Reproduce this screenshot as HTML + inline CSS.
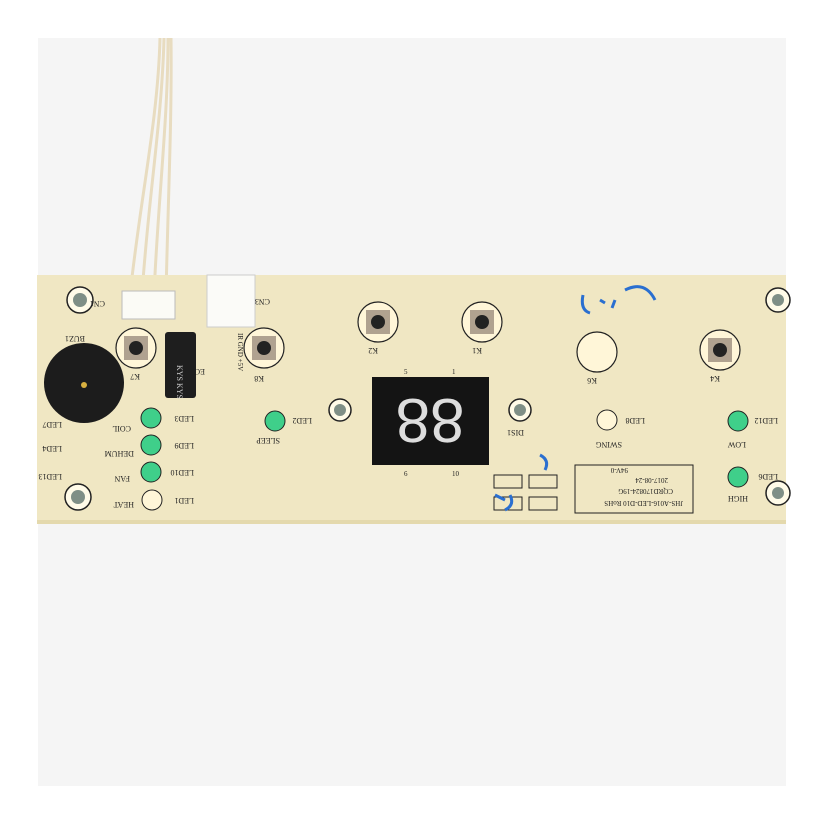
<!DOCTYPE html><html><head><style>body{margin:0;background:#fff}svg{display:block}text{font-family:"Liberation Serif",serif;fill:#222}</style></head><body>
<svg width="824" height="824" viewBox="0 0 824 824" xmlns="http://www.w3.org/2000/svg">
<rect x="38" y="38" width="748" height="748" fill="#f5f5f5"/>
<g stroke="#e8dcc0" stroke-width="3" fill="none">
<path d="M160 38 C158 120 140 200 130 295"/><path d="M164 38 C162 120 148 200 142 295"/><path d="M168 38 C168 120 158 200 154 295"/><path d="M171 38 C172 120 168 200 166 295"/></g>
<rect x="37" y="275" width="749" height="249" fill="#f0e7c3"/>
<rect x="37" y="520" width="749" height="4" fill="#e4d9ad"/>
<g fill="#fffbe8" stroke="#222" stroke-width="1.5">
<circle cx="80" cy="300" r="13"/><circle cx="78" cy="497" r="13"/><circle cx="778" cy="300" r="12"/><circle cx="778" cy="493" r="12"/>
<circle cx="340" cy="410" r="11"/><circle cx="520" cy="410" r="11"/></g>
<g fill="#7f8f86"><circle cx="80" cy="300" r="7"/><circle cx="78" cy="497" r="7"/><circle cx="778" cy="300" r="6"/><circle cx="778" cy="493" r="6"/><circle cx="340" cy="410" r="6"/><circle cx="520" cy="410" r="6"/></g>
<rect x="122" y="291" width="53" height="28" fill="#fbfbf6" stroke="#bbb"/>
<text x="105" y="307" font-size="8" transform="rotate(180 105 304)">CN1</text>
<rect x="207" y="275" width="48" height="52" fill="#fbfbf8" stroke="#ccc"/>
<text x="270" y="305" font-size="8" transform="rotate(180 270 302)">CN3</text>
<text x="238" y="333" font-size="7" transform="rotate(90 238 333)">IR GND +5V</text>
<text x="85" y="342" font-size="8" transform="rotate(180 85 339)">BUZ1</text>
<circle cx="84" cy="383" r="40" fill="#1c1c1c"/><circle cx="84" cy="385" r="3" fill="#d8b040"/>
<g fill="#fff6d8" stroke="#222" stroke-width="1.2">
<circle cx="136" cy="348" r="20"/><circle cx="264" cy="348" r="20"/><circle cx="378" cy="322" r="20"/><circle cx="482" cy="322" r="20"/><circle cx="597" cy="352" r="20"/><circle cx="720" cy="350" r="20"/></g>
<g fill="#b0a290"><rect x="124" y="336" width="24" height="24"/><rect x="252" y="336" width="24" height="24"/><rect x="366" y="310" width="24" height="24"/><rect x="470" y="310" width="24" height="24"/><rect x="708" y="338" width="24" height="24"/></g>
<g fill="#222"><circle cx="136" cy="348" r="7"/><circle cx="264" cy="348" r="7"/><circle cx="378" cy="322" r="7"/><circle cx="482" cy="322" r="7"/><circle cx="720" cy="350" r="7"/></g>
<g font-size="8">
<text x="140" y="380" transform="rotate(180 140 377)">K7</text><text x="264" y="382" transform="rotate(180 264 379)">K8</text>
<text x="378" y="354" transform="rotate(180 378 351)">K2</text><text x="482" y="354" transform="rotate(180 482 351)">K1</text>
<text x="597" y="384" transform="rotate(180 597 381)">K6</text><text x="720" y="382" transform="rotate(180 720 379)">K4</text>
<text x="205" y="375" transform="rotate(180 205 372)">EC1</text>
</g>
<rect x="165" y="332" width="31" height="66" rx="3" fill="#1e1e1e"/>
<text x="180" y="368" font-size="8" style="fill:#ccc" transform="rotate(90 180 365)">KYS KYS</text>
<rect x="372" y="377" width="117" height="88" fill="#141414"/>
<text x="430" y="443" text-anchor="middle" style="fill:#ddd;font-size:62px;font-family:'Liberation Sans',sans-serif" transform="rotate(180 430 421)">88</text>
<g font-size="7"><text x="404" y="374">5</text><text x="452" y="374">1</text><text x="404" y="476">6</text><text x="452" y="476">10</text></g>
<text x="506" y="436" font-size="8" transform="rotate(180 515 433)">DIS1</text>
<g fill="#3fcf8a" stroke="#222"><circle cx="151" cy="418" r="10"/><circle cx="151" cy="445" r="10"/><circle cx="151" cy="472" r="10"/><circle cx="275" cy="421" r="10"/><circle cx="738" cy="421" r="10"/><circle cx="738" cy="477" r="10"/></g>
<g fill="#fff6d8" stroke="#222"><circle cx="152" cy="500" r="10"/><circle cx="607" cy="420" r="10"/></g>
<g font-size="8">
<text x="176" y="422" transform="rotate(180 185 419)">LED3</text><text x="176" y="449" transform="rotate(180 185 446)">LED9</text>
<text x="176" y="476" transform="rotate(180 185 473)">LED10</text><text x="176" y="504" transform="rotate(180 185 501)">LED1</text>
<text x="105" y="432" transform="rotate(180 118 429)">COIL</text><text x="96" y="457" transform="rotate(180 115 454)">DEHUM</text>
<text x="110" y="482" transform="rotate(180 120 479)">FAN</text><text x="102" y="508" transform="rotate(180 118 505)">HEAT</text>
<text x="42" y="428" transform="rotate(180 52 425)">LED7</text><text x="42" y="452" transform="rotate(180 52 449)">LED4</text><text x="42" y="480" transform="rotate(180 52 477)">LED13</text>
<text x="292" y="424" transform="rotate(180 302 421)">LED2</text><text x="256" y="444" transform="rotate(180 268 441)">SLEEP</text>
<text x="625" y="424" transform="rotate(180 635 421)">LED8</text><text x="592" y="448" transform="rotate(180 607 445)">SWING</text>
<text x="752" y="424" transform="rotate(180 765 421)">LED12</text><text x="724" y="448" transform="rotate(180 735 445)">LOW</text>
<text x="752" y="480" transform="rotate(180 765 477)">LED6</text><text x="722" y="502" transform="rotate(180 735 499)">HIGH</text>
</g>
<rect x="575" y="465" width="118" height="48" fill="none" stroke="#222"/>
<g font-size="7" font-family="Liberation Sans">
<text x="585" y="477" transform="rotate(180 634 489)">JHS-A016-LED-D10 RoHS</text>
<text x="595" y="489" transform="rotate(180 634 489)">CQRD170824-19G</text>
<text x="600" y="500" transform="rotate(180 634 489)">2017-08-24</text>
<text x="640" y="510" transform="rotate(180 634 489)">94V-0</text></g>
<g fill="none" stroke="#222"><rect x="529" y="475" width="28" height="13"/><rect x="494" y="475" width="28" height="13"/><rect x="529" y="497" width="28" height="13"/><rect x="494" y="497" width="28" height="13"/></g>
<g stroke="#2a6fd0" stroke-width="3" fill="none">
<path d="M583 295 Q580 310 590 313 M600 300 L605 303 M615 300 L612 308 M625 290 Q645 280 655 300"/>
<path d="M540 455 Q550 460 545 470 M495 495 L505 500 M505 510 Q515 505 510 495"/></g>
</svg></body></html>
